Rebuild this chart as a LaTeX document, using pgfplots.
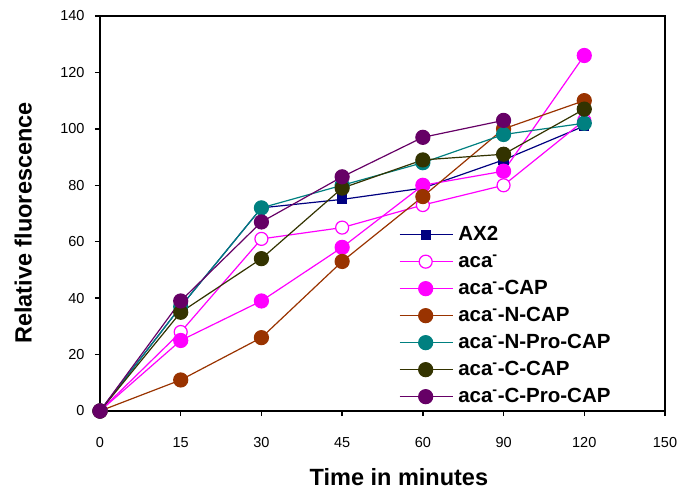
\documentclass[border=0pt]{standalone}
\usepackage{fontspec}
\setmainfont{Liberation Sans}
\usepackage{pgfplots}
\pgfplotsset{compat=1.18}

\definecolor{axnavy}{RGB}{0,0,128}
\definecolor{acamag}{RGB}{255,0,255}
\definecolor{ncap}{RGB}{153,51,0}
\definecolor{nprocap}{RGB}{0,128,128}
\definecolor{ccap}{RGB}{51,51,0}
\definecolor{cprocap}{RGB}{102,0,102}

\begin{document}
\begin{tikzpicture}
% fix the page to the reference size (axis origin at 100,411 px)
\path[use as bounding box] (-100pt,-82pt) rectangle (577pt,411pt);
\begin{axis}[
  scale only axis,
  width=565pt, height=395pt,
  xmin=0, xmax=7, ymin=0, ymax=140,
  xtick={0,1,2,3,4,5,6,7},
  xticklabels={0,15,30,45,60,90,120,150},
  ytick={0,20,40,60,80,100,120,140},
  tick align=outside,
  xtick pos=bottom, ytick pos=left,
  major tick length=5pt,
  tick style={black, line width=1.3pt},
  axis line style={line width=1.6pt},
  /pgf/number format/assume math mode=true,
  tick label style={font=\fontsize{14.5}{17}\selectfont},
  xticklabel style={yshift=-18pt},
  yticklabel style={xshift=-7pt},
  xlabel={\textbf{Time in minutes}},
  ylabel={\textbf{Relative fluorescence}},
  label style={font=\fontsize{23.5}{26}\selectfont},
  xlabel style={at={(axis description cs:0.529,-0.168)}, anchor=center},
  ylabel style={at={(axis description cs:-0.136,0.476)}, anchor=center},
  every axis plot/.append style={line width=1.2pt},
  legend image code/.code={
    \draw[mark repeat=2,mark phase=2] plot coordinates {(0pt,0pt) (26pt,0pt) (53pt,0pt)};},
  legend style={draw=none, fill=none, inner sep=0pt,
    at={(0.529,0.471)}, anchor=north west,
    font=\fontsize{20.5}{22}\selectfont\bfseries, row sep=8pt,
    nodes={inner sep=1pt, text height=14pt, text depth=3pt},
    /tikz/every odd column/.append style={column sep=4pt}},
  legend cell align=left,
]
\addplot[axnavy, mark=square*, mark size=4.5pt] coordinates {
  (0,0) (1,37) (2,72) (3,75) (4,79) (5,89) (6,101)};
\addlegendentry{AX2}
\addplot[acamag, mark=*, mark size=6.5pt, mark options={fill=white}] coordinates {
  (0,0) (1,28) (2,61) (3,65) (4,73) (5,80) (6,103)};
\addlegendentry{aca\textsuperscript{-}}
\addplot[acamag, mark=*, mark size=7pt] coordinates {
  (0,0) (1,25) (2,39) (3,58) (4,80) (5,85) (6,126)};
\addlegendentry{aca\textsuperscript{-}-CAP}
\addplot[ncap, mark=*, mark size=7pt] coordinates {
  (0,0) (1,11) (2,26) (3,53) (4,76) (5,100) (6,110)};
\addlegendentry{aca\textsuperscript{-}-N-CAP}
\addplot[nprocap, mark=*, mark size=7pt] coordinates {
  (0,0) (1,37) (2,72) (3,80) (4,88) (5,98) (6,102)};
\addlegendentry{aca\textsuperscript{-}-N-Pro-CAP}
\addplot[ccap, mark=*, mark size=7pt] coordinates {
  (0,0) (1,35) (2,54) (3,79) (4,89) (5,91) (6,107)};
\addlegendentry{aca\textsuperscript{-}-C-CAP}
\addplot[cprocap, mark=*, mark size=7pt] coordinates {
  (0,0) (1,39) (2,67) (3,83) (4,97) (5,103)};
\addlegendentry{aca\textsuperscript{-}-C-Pro-CAP}
\draw[line width=1.6pt] (rel axis cs:0,0) rectangle (rel axis cs:1,1);
\draw[line width=2.6pt] (rel axis cs:0,1) -- (rel axis cs:0,0) -- (rel axis cs:1,0);
\end{axis}
\end{tikzpicture}
\end{document}
